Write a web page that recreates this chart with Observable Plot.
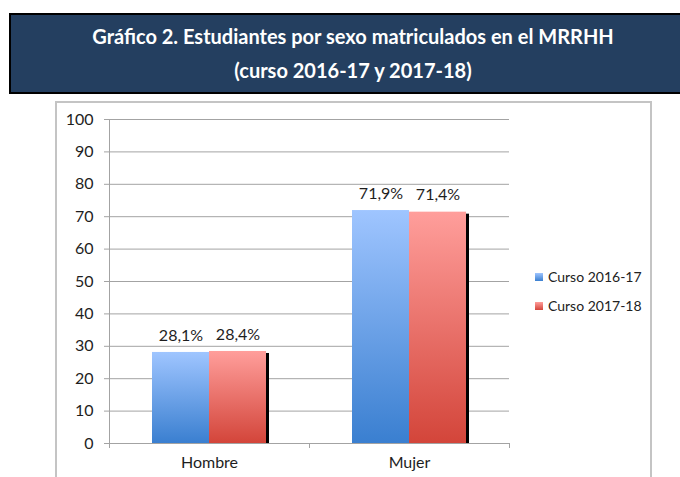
<!DOCTYPE html>
<html>
<head>
<meta charset="utf-8">
<script src="https://cdn.jsdelivr.net/npm/d3@7"></script>
<script src="https://cdn.jsdelivr.net/npm/@observablehq/plot@0.6"></script>
<style>
  html, body { margin: 0; padding: 0; background: #fff; }
  #page { position: relative; width: 680px; height: 477px; overflow: hidden; font-family: Lato, "Open Sans", sans-serif; }
  #title { position: absolute; left: 9px; top: 13px; width: 684px; height: 77px; background: #243F60; border: 2px solid #000; color: #fff; font-weight: bold; font-size: 20px; text-align: center; box-sizing: content-box; }
  #title div { position: absolute; left: 0; right: 0; line-height: 22px; }
  #frame { position: absolute; left: 55px; top: 101px; width: 597px; height: 420px; border: 2px solid #c4c4c4; box-sizing: border-box; }
  #chart { position: absolute; left: 0; top: 101px; }
  .leg { position: absolute; left: 535px; font-size: 14px; color: #222; line-height: 16px; }
  .leg span.sw { position: absolute; left: 0; top: 4px; width: 8px; height: 8px; }
  .leg span.tx { position: absolute; left: 13px; top: 0; white-space: nowrap; }
</style>
</head>
<body>
<svg width="0" height="0" style="position:absolute">
  <defs>
    <linearGradient id="gBlue" x1="0" y1="0" x2="0" y2="1">
      <stop offset="0" stop-color="#9fc5ff"/>
      <stop offset="1" stop-color="#3a7fd0"/>
    </linearGradient>
    <linearGradient id="gRed" x1="0" y1="0" x2="0" y2="1">
      <stop offset="0" stop-color="#ff9e9b"/>
      <stop offset="1" stop-color="#d3453a"/>
    </linearGradient>
  </defs>
</svg>
<div id="page">
  <div id="title">
    <div style="top:10px">Gráfico 2. Estudiantes por sexo matriculados en el MRRHH</div>
    <div style="top:44px">(curso 2016-17 y 2017-18)</div>
  </div>
  <div id="frame"></div>
  <div id="chart"></div>
  <div id="legend"></div>
</div>
<script>
const categories = ["Hombre", "Mujer"];
const series = ["Curso 2016-17", "Curso 2017-18"];
const values2016 = [28.1, 71.9];
const values2017 = [28.4, 71.4];
const yTicks = [0, 10, 20, 30, 40, 50, 60, 70, 80, 90, 100];
const seriesFills = ["url(#gBlue)", "url(#gRed)"];
const legendCss = ["linear-gradient(#9fc5ff,#3a7fd0)", "linear-gradient(#ff9e9b,#d3453a)"];

const data = categories.flatMap((c, i) => [
  {cat: c, serie: series[0], value: values2016[i]},
  {cat: c, serie: series[1], value: values2017[i]}
]);
const fmt = d => d.value.toFixed(1).replace(".", ",") + "%";

const plot = Plot.plot({
  width: 680,
  height: 376,
  marginTop: 18,
  marginBottom: 34,
  marginLeft: 108,
  marginRight: 171,
  style: {fontFamily: "Lato, 'Open Sans', sans-serif", fontSize: "16px", color: "#222", background: "transparent", overflow: "visible"},
  fx: {domain: categories, paddingInner: 0, paddingOuter: 0, label: null},
  x: {domain: series, paddingInner: 0, paddingOuter: 0.743, axis: null},
  y: {domain: [0, 100], label: null},
  marks: [
    Plot.gridY(yTicks, {stroke: "#a3a3a3", strokeOpacity: 1}),
    Plot.axisY(yTicks, {tickSize: 5, tickPadding: 11, stroke: "#a3a3a3", fill: "#1e1e1e", label: null, fontSize: 16}),
    Plot.axisFx({anchor: "bottom", tickSize: 0, tickPadding: 13, label: null, fill: "#1e1e1e", fontSize: 16}),
    Plot.barY(data, {fx: "cat", x: "serie", y: "value", fill: "#000", dx: 3, insetTop: 2}),
    ...series.map((s, k) => Plot.barY(data.filter(d => d.serie === s), {fx: "cat", x: "serie", y: "value", fill: seriesFills[k]})),
    Plot.text(data, {fx: "cat", x: "serie", y: "value", text: fmt, dy: -17, fill: "#1e1e1e", fontSize: 16}),
    Plot.ruleY([0], {stroke: "#a3a3a3"})
  ]
});
document.getElementById("chart").appendChild(plot);

// axis line and category boundary ticks, from the plot's own scales
const fxS = plot.scale("fx"), yS = plot.scale("y");
const svg = d3.select(plot.tagName === "svg" ? plot : plot.querySelector("svg"));
const bounds = categories.map(c => fxS.apply(c)).concat([fxS.apply(categories[categories.length - 1]) + fxS.bandwidth]);
const y0 = yS.apply(0), yTop = yS.apply(100);
const g = svg.append("g").attr("stroke", "#a3a3a3").attr("shape-rendering", "crispEdges");
g.append("line").attr("x1", bounds[0]).attr("x2", bounds[0]).attr("y1", yTop).attr("y2", y0 + 5);
bounds.slice(1).forEach(b => g.append("line").attr("x1", b).attr("x2", b).attr("y1", y0).attr("y2", y0 + 5));

// legend
const leg = document.getElementById("legend");
series.forEach((s, k) => {
  const div = document.createElement("div");
  div.className = "leg";
  div.style.top = (269 + k * 29) + "px";
  div.innerHTML = `<span class="sw" style="background:${legendCss[k]}"></span><span class="tx">${s}</span>`;
  leg.appendChild(div);
});
</script>
</body>
</html>
